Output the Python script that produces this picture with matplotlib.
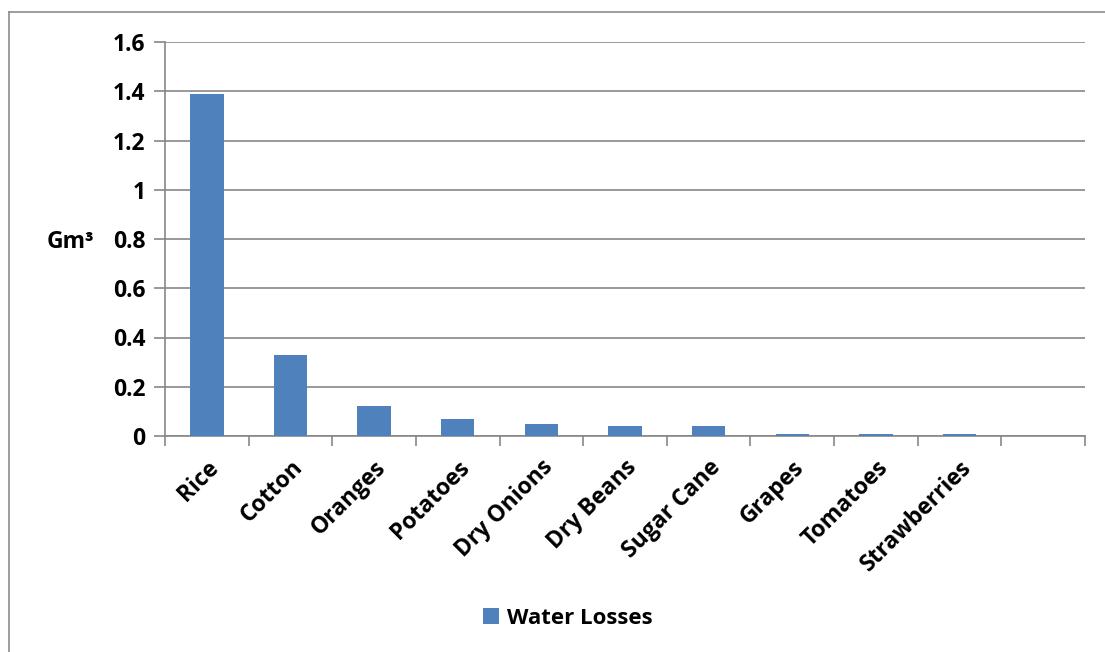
import numpy as np
import matplotlib.pyplot as plt
from matplotlib.lines import Line2D

crops = ["Rice", "Cotton", "Oranges", "Potatoes", "Dry Onions", "Dry Beans",
         "Sugar Cane", "Grapes", "Tomatoes", "Strawberries", ""]
water_losses = [1.39, 0.33, 0.12, 0.07, 0.05, 0.04, 0.04, 0.01, 0.01, 0.01, np.nan]
y_ticks = [0, 0.2, 0.4, 0.6, 0.8, 1, 1.2, 1.4, 1.6]
y_tick_labels = ["0", "0.2", "0.4", "0.6", "0.8", "1", "1.2", "1.4", "1.6"]

plt.rcParams['font.family'] = ['Open Sans', 'DejaVu Sans']
plt.rcParams['font.weight'] = 'bold'

FS = 16.5
W, H = 1105, 652
fig = plt.figure(figsize=(W / 100, H / 100), dpi=100)
ax = fig.add_axes([165 / W, 1 - 436 / H, 920 / W, (436 - 42) / H])

bar_color = "#4F81BD"
grid_color = "#878787"
x = np.arange(len(crops))
ax.bar(x, water_losses, width=0.4, color=bar_color, zorder=3, label="Water Losses")

ax.set_xlim(-0.5, len(crops) - 0.5)
ax.set_ylim(0, 1.6)
ax.set_yticks(y_ticks)
ax.set_yticklabels(y_tick_labels, fontsize=FS, fontweight="bold")
ax.set_xticks(x)
ax.set_xticklabels(crops, rotation=45, ha="right", rotation_mode="anchor",
                   fontsize=FS, fontweight="bold")
ax.tick_params(axis="x", which="major", length=0, pad=14)
ax.set_xticks(np.arange(-0.5, len(crops)), minor=True)
ax.tick_params(axis="x", which="minor", length=7, width=1.2, color=grid_color)
ax.tick_params(axis="y", length=8, width=1.2, color=grid_color, pad=6)

ax.yaxis.grid(True, color=grid_color, linewidth=1.2, zorder=0)
ax.set_axisbelow(True)
for side in ("top", "right"):
    ax.spines[side].set_visible(False)
for side in ("left", "bottom"):
    ax.spines[side].set_color(grid_color)
    ax.spines[side].set_linewidth(1.2)

ax.set_ylabel("Gm³", rotation=0, fontsize=FS, fontweight="bold", va="center")
ax.yaxis.set_label_coords(-95 / 920, (436 - 242) / 394)

fig.legend(handles=ax.containers[0][:1], labels=["Water Losses"],
           loc="center", bbox_to_anchor=(568 / W, 1 - 618 / H), frameon=False,
           prop={"weight": "bold", "size": 16}, handlelength=0.7,
           handleheight=0.7, handletextpad=0.4)

# outer chart-area frame
fig.add_artist(Line2D([9 / W, 1], [1 - 12 / H, 1 - 12 / H], color="#8c8c8c",
                      linewidth=1.2, transform=fig.transFigure))
fig.add_artist(Line2D([9 / W, 9 / W], [0, 1 - 12 / H], color="#8c8c8c",
                      linewidth=1.2, transform=fig.transFigure))

fig.savefig("out.png", dpi=100)
